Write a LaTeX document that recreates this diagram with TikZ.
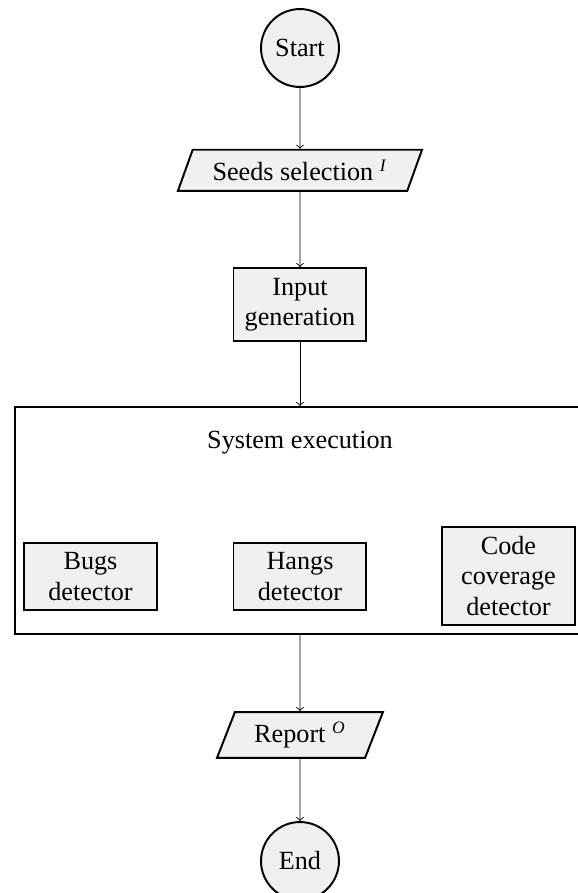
\documentclass[tikz,border=0pt]{standalone}
\usepackage{fontspec}
\setmainfont{Liberation Serif}
\usepackage{tikz}
\usetikzlibrary{shapes.geometric}
\pgfdeclarelayer{edgelayer}
\pgfdeclarelayer{nodelayer}
\pgfsetlayers{edgelayer,nodelayer,main}
\definecolor{boxgray}{rgb}{0.941,0.941,0.941}
\definecolor{myblack}{rgb}{0.000,0.000,0.000}
\definecolor{mywhite}{rgb}{1.000,1.000,1.000}
\tikzstyle{terminal}=[circle,fill=boxgray,draw=myblack,line width=0.9pt,minimum size=35.7pt,inner sep=0pt]
\tikzstyle{io}=[trapezium,trapezium left angle=60,trapezium right angle=120,trapezium stretches body,fill=boxgray,draw=myblack,line width=0.9pt,inner sep=1pt]
\tikzstyle{process}=[rectangle,fill=boxgray,draw=myblack,line width=0.9pt,align=center,minimum width=60.9pt,inner sep=1pt]
\tikzstyle{container}=[rectangle,fill=mywhite,draw=myblack,line width=0.9pt,minimum width=261pt,minimum height=104pt]
\tikzstyle{titletext}=[align=center]
\tikzstyle{flow}=[->,thin,draw=myblack]

\begin{document}
\begin{tikzpicture}[font=\fontsize{12}{13.8}\selectfont]
	\useasboundingbox (-4.829,0) rectangle (4.475,-14.375);
	\begin{pgfonlayer}{nodelayer}
		\node [style=terminal] (0) at (0,-0.773) {Start};
		\node [style=io,minimum width=111.8pt,minimum height=18.8pt] (1) at (0,-2.741) {Seeds selection \textsuperscript{\textit{I}}};
		\node [style=process,minimum height=33.4pt] (2) at (0,-4.902) {Input\\generation};
		\node [style=container] (3) at (0,-8.379) {};
		\node [style=titletext] (4) at (0,-7.131) {System execution};
		\node [style=process,minimum height=30.7pt] (5) at (-3.372,-9.280) {Bugs\\detector};
		\node [style=process,minimum height=30.7pt] (6) at (0,-9.280) {Hangs\\detector};
		\node [style=process,minimum height=44.9pt] (7) at (3.356,-9.272) {Code\\coverage\\detector};
		\node [style=io,minimum width=76pt,minimum height=21pt] (8) at (0,-11.831) {Report \textsuperscript{\textit{O}}};
		\node [style=terminal] (9) at (0,-13.860) {End};
	\end{pgfonlayer}
	\begin{pgfonlayer}{edgelayer}
		\draw [style=flow] (0) to (1);
		\draw [style=flow] (1) to (2);
		\draw [style=flow] (2) to (3);
		\draw [style=flow] (3) to (8);
		\draw [style=flow] (8) to (9);
	\end{pgfonlayer}
\end{tikzpicture}
\end{document}
